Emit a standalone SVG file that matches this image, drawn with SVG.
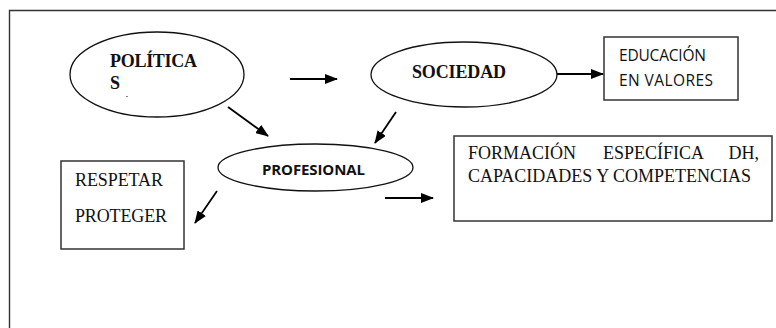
<svg xmlns="http://www.w3.org/2000/svg" width="776" height="328" viewBox="0 0 776 328">
<style>
.shape{fill:#fff;stroke:#111;stroke-width:1.3}
.box{fill:#fff;stroke:#333;stroke-width:1.5}
.conn line{stroke:#000;stroke-width:1.8;marker-end:url(#ah)}
.serif{font-family:"Liberation Serif","Times New Roman",serif;fill:#111}
.sans{font-family:"Open Sans","Liberation Sans",sans-serif;fill:#111}
</style>
<defs>
<marker id="ah" markerWidth="13" markerHeight="10" refX="12" refY="5" orient="auto" markerUnits="userSpaceOnUse">
<path d="M0,0 L13,5 L0,10 Z" fill="#000"/>
</marker>
</defs>
<rect width="776" height="328" fill="#fff"/>
<path d="M9.5,328 V10.5 H776" fill="none" stroke="#333" stroke-width="1.4"/>
<g id="politicas">
<ellipse class="shape" cx="157" cy="74.5" rx="87" ry="42.5"/>
<text class="serif" x="110" y="67" font-size="18" font-weight="bold" textLength="87">POLÍTICA</text>
<text class="serif" x="110" y="89" font-size="18" font-weight="bold">S</text>
<line x1="126" y1="96.5" x2="128" y2="96.5" stroke="#666" stroke-width="0.8"/>
</g>
<g id="sociedad">
<ellipse class="shape" cx="464" cy="74.5" rx="93" ry="32.5"/>
<text class="serif" x="412" y="78" font-size="18" font-weight="bold" textLength="94">SOCIEDAD</text>
</g>
<g id="educacion">
<rect class="box" x="604" y="37" width="134" height="63"/>
<text class="sans" x="619" y="61" font-size="15.5" textLength="87">EDUCACIÓN</text>
<text class="sans" x="619" y="86" font-size="15.5" textLength="94">EN VALORES</text>
</g>
<g id="profesional">
<ellipse class="shape" cx="315.5" cy="167.5" rx="97.5" ry="23.5"/>
<text class="sans" x="262" y="175" font-size="15" font-weight="bold" textLength="103">PROFESIONAL</text>
</g>
<g id="respetar">
<rect class="box" x="61" y="161" width="123" height="88"/>
<text class="serif" x="75" y="186" font-size="18" textLength="88">RESPETAR</text>
<text class="serif" x="75" y="222" font-size="18" textLength="92">PROTEGER</text>
</g>
<g id="formacion">
<rect class="box" x="454" y="136" width="318" height="85"/>
<text class="serif" x="468" y="159" font-size="18">FORMACIÓN</text>
<text class="serif" x="603" y="159" font-size="18">ESPECÍFICA</text>
<text class="serif" x="759" y="159" font-size="18" text-anchor="end">DH,</text>
<text class="serif" x="468" y="182" font-size="18" textLength="283">CAPACIDADES Y COMPETENCIAS</text>
</g>
<g id="connectors" class="conn">
<line x1="290" y1="79" x2="337" y2="79"/>
<line x1="228" y1="107" x2="268" y2="136"/>
<line x1="557" y1="74" x2="603" y2="74"/>
<line x1="396" y1="112" x2="375" y2="143"/>
<line x1="217" y1="191" x2="195" y2="223"/>
<line x1="385" y1="198" x2="433" y2="198"/>
</g>
</svg>
